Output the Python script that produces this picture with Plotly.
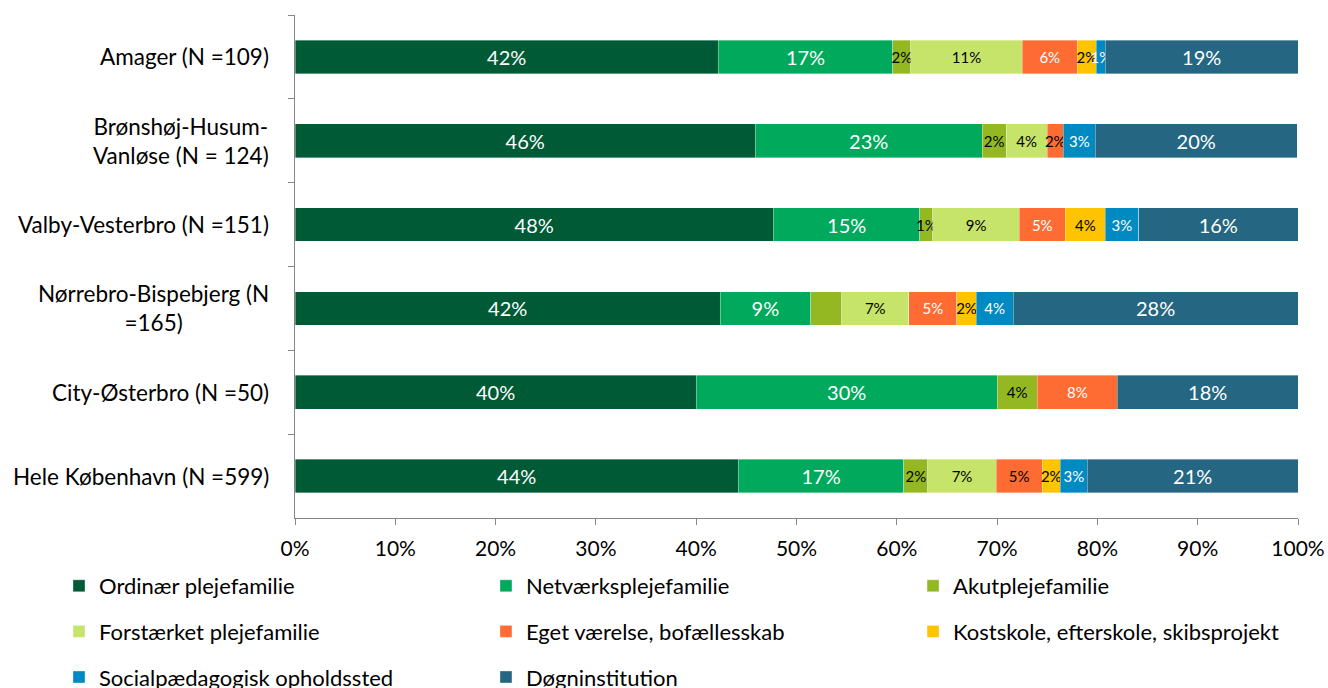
import plotly.graph_objects as go

categories = [
    "Amager (N =109)",
    "Brønshøj-Husum-<br>Vanløse (N = 124)",
    "Valby-Vesterbro (N =151)",
    "Nørrebro-Bispebjerg (N<br>=165)",
    "City-Østerbro (N =50)",
    "Hele København (N =599)",
]

series_names = [
    "Ordinær plejefamilie",
    "Netværksplejefamilie",
    "Akutplejefamilie",
    "Forstærket plejefamilie",
    "Eget værelse, bofællesskab",
    "Kostskole, efterskole, skibsprojekt",
    "Socialpædagogisk opholdssted",
    "Døgninstitution",
]

ordinaer = [42.2, 45.9, 47.7, 42.4, 40.0, 44.2]
netvaerk = [17.4, 22.6, 14.6, 9.0, 30.0, 16.5]
akut = [1.8, 2.4, 1.3, 3.1, 4.0, 2.4]
forstaerket = [11.1, 4.1, 8.6, 6.7, 0.0, 6.8]
eget = [5.5, 1.6, 4.6, 4.8, 8.0, 4.6]
kostskole = [1.9, 0.0, 4.0, 1.9, 0.0, 1.8]
social = [0.9, 3.2, 3.3, 3.7, 0.0, 2.7]
doegn = [19.2, 20.1, 15.9, 28.4, 18.0, 21.0]

lbl_ordinaer = ["42%", "46%", "48%", "42%", "40%", "44%"]
lbl_netvaerk = ["17%", "23%", "15%", "9%", "30%", "17%"]
lbl_akut = ["2%", "2%", "1%", "", "4%", "2%"]
lbl_forstaerket = ["11%", "4%", "9%", "7%", "", "7%"]
lbl_eget = ["6%", "2%", "5%", "5%", "8%", "5%"]
lbl_kostskole = ["2%", "", "4%", "2%", "", "2%"]
lbl_social = ["1%", "3%", "3%", "4%", "", "3%"]
lbl_doegn = ["19%", "20%", "16%", "28%", "18%", "21%"]

x_tickvals = [0, 10, 20, 30, 40, 50, 60, 70, 80, 90, 100]
x_ticktext = ["0%", "10%", "20%", "30%", "40%", "50%", "60%", "70%", "80%", "90%", "100%"]

colors = ["#005A36", "#00A95C", "#93B821", "#C6E46A", "#FF6C33", "#FFC400", "#008AC2", "#256682"]

values = [ordinaer, netvaerk, akut, forstaerket, eget, kostskole, social, doegn]
labels = [lbl_ordinaer, lbl_netvaerk, lbl_akut, lbl_forstaerket, lbl_eget, lbl_kostskole, lbl_social, lbl_doegn]

W, B = "white", "black"
text_colors = [
    [W] * 6,
    [W] * 6,
    [B] * 6,
    [B] * 6,
    [W, B, W, W, W, B],
    [B] * 6,
    [W] * 6,
    [W] * 6,
]
text_sizes = [20, 20, 15, 15, 15, 15, 15, 20]
legend_ids = ["legend", "legend2", "legend3", "legend", "legend2", "legend3", "legend", "legend2"]

FONT = "Lato, 'Open Sans', sans-serif"

fig = go.Figure()
for i, name in enumerate(series_names):
    fig.add_trace(go.Bar(
        y=categories,
        x=values[i],
        name=name,
        orientation="h",
        marker=dict(color=colors[i], line=dict(color="rgba(255,255,255,0.45)", width=0.8)),
        text=labels[i],
        textposition="inside",
        insidetextanchor="middle",
        textangle=0,
        constraintext="none",
        insidetextfont=dict(family=FONT, size=text_sizes[i], color=text_colors[i]),
        legend=legend_ids[i],
        legendgroup=name,
        hoverinfo="x+name",
    ))

# category labels (centered multi-line, like the reference)
for c in categories:
    fig.add_annotation(
        x=0, xref="paper", y=c, yref="y",
        text=c, showarrow=False, xanchor="right", yanchor="middle",
        align="center", xshift=-24,
        font=dict(family=FONT, size=22.5, color="black"),
    )

axis_gray = "#868686"
legend_common = dict(
    orientation="v", xanchor="left", yanchor="top", y=-0.0934,
    font=dict(family=FONT, size=22, color="black"),
    tracegroupgap=14, bgcolor="rgba(0,0,0,0)", borderwidth=0,
    itemclick=False, itemdoubleclick=False,
)

fig.update_layout(
    width=1328, height=688,
    barmode="stack",
    bargap=0.6,
    plot_bgcolor="white", paper_bgcolor="white",
    margin=dict(l=295, r=30, t=15, b=170, autoexpand=False),
    font=dict(family=FONT, size=20, color="black"),
    xaxis=dict(
        range=[0, 100], tickmode="array", tickvals=x_tickvals, ticktext=x_ticktext,
        showgrid=False, zeroline=False,
        showline=True, linecolor=axis_gray, linewidth=1,
        ticks="outside", ticklen=6, tickcolor=axis_gray,
        tickfont=dict(family=FONT, size=21, color="black"),
        ticklabelstandoff=6,
    ),
    yaxis=dict(
        type="category", categoryorder="array", categoryarray=categories,
        autorange="reversed", showgrid=False, zeroline=False,
        showline=True, linecolor=axis_gray, linewidth=1,
        ticks="outside", ticklen=6, tickcolor=axis_gray, tickson="boundaries",
        showticklabels=False,
    ),
    legend=dict(x=-0.2353, **legend_common),
    legend2=dict(x=0.1904, **legend_common),
    legend3=dict(x=0.6162, **legend_common),
    showlegend=True,
)

fig.write_html(
    "out.html",
    config={"displayModeBar": False},
    post_script="document.body.style.margin='0';document.body.style.overflow='hidden';",
)
